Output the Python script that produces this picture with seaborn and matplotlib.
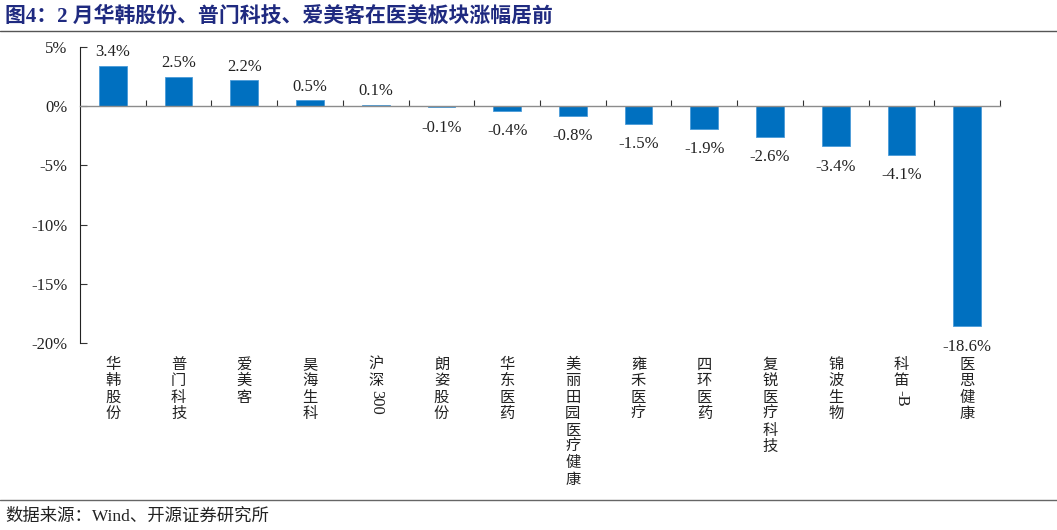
import matplotlib
matplotlib.use("Agg")
import matplotlib.pyplot as plt
import matplotlib.transforms as mtransforms
import seaborn as sns
import pandas as pd

# Data
names = ["华韩股份", "普门科技", "爱美客", "昊海生科", "沪深300", "朗姿股份", "华东医药",
         "美丽田园医疗健康", "雍禾医疗", "四环医药", "复锐医疗科技", "锦波生物", "科笛-B", "医思健康"]
changes = [3.4, 2.5, 2.2, 0.5, 0.1, -0.1, -0.4, -0.8, -1.5, -1.9, -2.6, -3.4, -4.1, -18.6]
yticks = [5, 0, -5, -10, -15, -20]

title = "图4：2 月华韩股份、普门科技、爱美客在医美板块涨幅居前"
source = "数据来源：Wind、开源证券研究所"

sns.set_style("white")
fonts = ["Liberation Serif", "Noto Sans CJK SC", "DejaVu Sans"]
plt.rcParams["font.family"] = fonts
plt.rcParams["axes.unicode_minus"] = False

df = pd.DataFrame({"name": names, "change": changes})

fig = plt.figure(figsize=(10.57, 5.30), dpi=100)
ax = fig.add_axes([80 / 1057, 1 - 343 / 530, 920 / 1057, 296 / 530])

sns.barplot(data=df, x="name", y="change", color="#0070C0", width=0.42,
            saturation=1, edgecolor="#4A9BD8", linewidth=0.6, ax=ax)

ax.set_xlim(-0.5, len(names) - 0.5)
ax.set_ylim(-20, 5)
ax.set_yticks(yticks)
ax.set_yticklabels([f"{t}%" for t in yticks], fontsize=12, color="#222222")
ax.tick_params(axis="y", left=True, direction="in", length=5, width=0.8,
               color="#333333", pad=9)

# x axis at zero, ticks between categories
ax.spines["bottom"].set_position(("data", 0))
ax.spines["bottom"].set_color("#8C8C8C")
ax.spines["bottom"].set_linewidth(1.0)
ax.spines["left"].set_color("#222222")
ax.spines["left"].set_linewidth(0.8)
ax.spines["top"].set_visible(False)
ax.spines["right"].set_visible(False)
ax.set_xticks(range(len(names)))
ax.set_xticklabels([])
ax.tick_params(axis="x", which="major", length=0)
ax.set_xticks([i + 0.5 for i in range(len(names))], minor=True)
ax.tick_params(axis="x", which="minor", bottom=True, direction="in", length=4,
               width=0.8, color="#333333")
ax.set_xlabel("")
ax.set_ylabel("")

# value labels: a bit more room below the negative bars
bars = ax.containers[0]
pos_labels = [f"{v:.1f}%" if v >= 0 else "" for v in changes]
neg_labels = [f"{v:.1f}%" if v < 0 else "" for v in changes]
ax.bar_label(bars, labels=pos_labels, padding=4, fontsize=12, color="#222222")
ax.bar_label(bars, labels=neg_labels, padding=9, fontsize=12, color="#222222")

# vertical category labels below the plot area
trans = mtransforms.blended_transform_factory(ax.transData, ax.transAxes)
px = 0.72  # points per pixel at 100 dpi
for i, name in enumerate(names):
    cjk = ""
    rest = ""
    for k, ch in enumerate(name):
        if ord(ch) > 0x2E80:
            cjk += ch
        else:
            rest = name[k:]
            break
    for k, ch in enumerate(cjk):
        ax.annotate(ch, xy=(i, 0), xycoords=trans,
                    xytext=(0, -(13 + k * 16.4) * px), textcoords="offset points",
                    ha="center", va="top", fontsize=11, color="#222222",
                    family=["Noto Sans CJK SC"])
    if rest:
        ax.annotate(rest, xy=(i, 0), xycoords=trans,
                    xytext=(0, -(14 + len(cjk) * 16.4) * px), textcoords="offset points",
                    ha="center", va="top", rotation=-90, fontsize=12, color="#222222")

# title, separators and source
fig.text(5 / 1057, 1 - 17 / 530, title, fontsize=15, fontweight="bold", color="#1F2A80",
         va="center", ha="left", family=["Liberation Serif", "Noto Sans CJK SC"])
fig.add_artist(plt.Line2D([0, 1], [1 - 31 / 530, 1 - 31 / 530], color="#555555", linewidth=1.0))
fig.add_artist(plt.Line2D([0, 1], [1 - 500 / 530, 1 - 500 / 530], color="#666666", linewidth=1.0))
fig.text(5 / 1057, 1 - 517 / 530, source, fontsize=12.5, color="#222222",
         va="center", ha="left")

fig.savefig("out.png", dpi=100)
